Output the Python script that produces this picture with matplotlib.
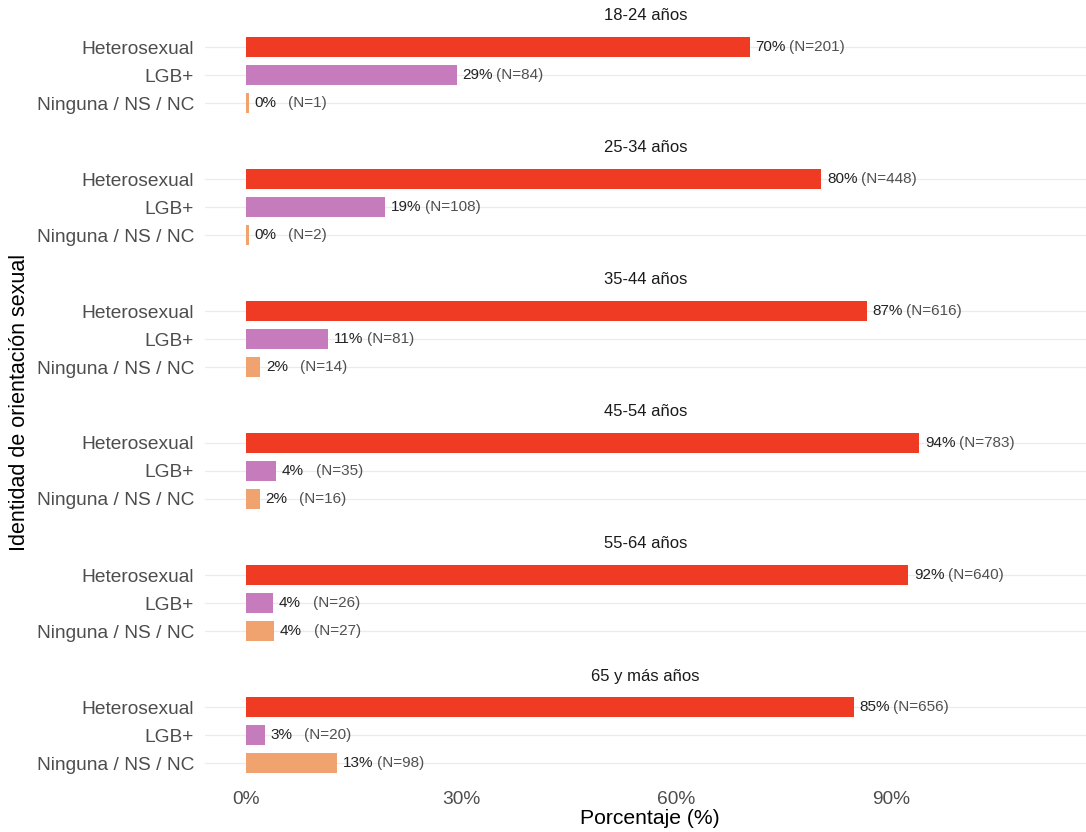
import matplotlib
matplotlib.use("Agg")
import matplotlib.pyplot as plt

plt.rcParams["font.family"] = ["Liberation Sans", "DejaVu Sans"]

age_groups = ["18-24 años", "25-34 años", "35-44 años", "45-54 años", "55-64 años", "65 y más años"]
categories = ["Heterosexual", "LGB+", "Ninguna / NS / NC"]
colors = ["#EF3B24", "#C67BBC", "#F0A36F"]

# percentage of each group
pct_hetero = [70.3, 80.3, 86.6, 93.9, 92.4, 84.8]
pct_lgb = [29.4, 19.4, 11.4, 4.2, 3.8, 2.6]
pct_none = [0.35, 0.36, 2.0, 1.9, 3.9, 12.7]

n_hetero = [201, 448, 616, 783, 640, 656]
n_lgb = [84, 108, 81, 35, 26, 20]
n_none = [1, 2, 14, 16, 27, 98]

W, H = 1086, 832
fig = plt.figure(figsize=(W / 100, H / 100), dpi=100)

px_per_unit = 28
x0_px, x30_px = 246, 461
ax_left_px, ax_right_px = 205, 1086
scale = (x30_px - x0_px) / 0.30
xmin = -(x0_px - ax_left_px) / scale
xmax = (ax_right_px - x0_px) / scale

for k, group in enumerate(age_groups):
    center_px = 75 + 132 * k
    half = 1.6 * px_per_unit
    bottom = (H - (center_px + half)) / H
    ax = fig.add_axes([ax_left_px / W, bottom, (ax_right_px - ax_left_px) / W, 2 * half / H])

    vals = [pct_hetero[k], pct_lgb[k], pct_none[k]]
    ns = [n_hetero[k], n_lgb[k], n_none[k]]
    ypos = [2, 1, 0]
    for y, v, n, c in zip(ypos, vals, ns, colors):
        ax.barh(y, v / 100, height=0.69, color=c, zorder=2)
        ax.annotate(f"{round(v)}%", (v / 100, y), xytext=(4.2, 0), textcoords="offset points",
                    ha="left", va="center", fontsize=11, color="#222222", zorder=3)
        ax.annotate(f"(N={n})", (v / 100, y), xytext=(28.5, 0), textcoords="offset points",
                    ha="left", va="center", fontsize=11, color="#505050", zorder=3)

    ax.set_xlim(xmin, xmax)
    ax.set_ylim(-0.6, 2.6)
    ax.set_yticks(ypos)
    ax.set_yticklabels(categories, fontsize=13.8, color="#4D4D4D")
    ax.grid(axis="y", color="#EBEBEB", linewidth=0.9, zorder=0)
    ax.grid(axis="x", visible=False)
    ax.tick_params(length=0, pad=8)
    for s in ax.spines.values():
        s.set_visible(False)

    ax.set_xticks([0, 0.3, 0.6, 0.9])
    if k == len(age_groups) - 1:
        ax.set_xticklabels(["0%", "30%", "60%", "90%"], fontsize=13.8, color="#4D4D4D")
        ax.tick_params(axis="x", pad=8)
    else:
        ax.set_xticklabels([])

    fig.text((ax_left_px + ax_right_px) / 2 / W, (H - (16 + 132 * k)) / H, group,
             ha="center", va="center", fontsize=12, color="#1A1A1A")

fig.text(650 / W, (H - 818) / H, "Porcentaje (%)",
         ha="center", va="center", fontsize=15.2, color="black")
fig.text(20 / W, (H - 402) / H, "Identidad de orientación sexual", rotation=90,
         ha="center", va="center", fontsize=15.5, color="black")

fig.savefig("out.png", dpi=100, facecolor="white")
